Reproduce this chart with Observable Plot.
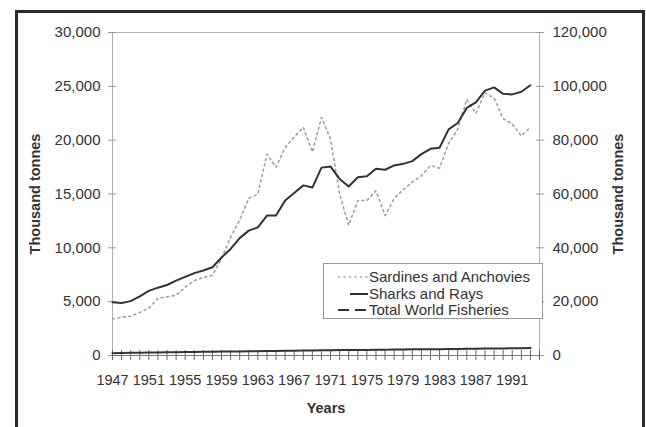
<!DOCTYPE html>
<html>
<head>
<meta charset="utf-8">
<script src="https://cdn.jsdelivr.net/npm/d3@7"></script>
<script src="https://cdn.jsdelivr.net/npm/@observablehq/plot@0.6"></script>
<style>
  body { margin: 0; background: #fff; }
  #wrap { position: relative; width: 646px; height: 427px; overflow: hidden;
          font-family: "Liberation Sans", Arial, sans-serif; color: #333; }
  #chart { position: absolute; left: 0; top: 0; }
  #frame { position: absolute; left: 15px; top: 10px; width: 630px; height: 430px;
           border: 3px solid #2b2b2b; box-sizing: border-box; pointer-events: none; }
  #legend { position: absolute; left: 323px; top: 263px; width: 220px; height: 56px;
            box-sizing: border-box; border: 1px solid #9a9a9a; background: #fff;
            padding: 5px 0 0 14px; font-size: 15px; line-height: 16.5px; color: #333; }
  #legend .row { display: flex; align-items: center; height: 16.5px; white-space: nowrap; }
  #legend svg { flex: none; margin-right: 1px; }
</style>
</head>
<body>
<div id="wrap">
  <div id="chart"></div>
  <div id="frame"></div>
  <div id="legend"></div>
</div>
<script>
// ---- data (thousand tonnes) ----
const years = [1947,1948,1949,1950,1951,1952,1953,1954,1955,1956,1957,1958,1959,1960,
  1961,1962,1963,1964,1965,1966,1967,1968,1969,1970,1971,1972,1973,1974,1975,1976,1977,
  1978,1979,1980,1981,1982,1983,1984,1985,1986,1987,1988,1989,1990,1991,1992,1993];

const sardines = [3400,3550,3650,4000,4400,5300,5450,5600,6350,6950,7250,7450,9000,11000,
  12600,14600,15000,18700,17500,19300,20300,21200,18900,22100,20100,15000,12100,14400,14400,15300,13000,
  14600,15400,16100,16700,17650,17400,19700,21000,23800,22500,24400,23900,22000,21500,20400,21200];

const sharks = [220,230,250,260,270,290,300,310,320,330,340,350,360,370,
  380,390,400,410,420,440,450,460,470,480,490,500,510,520,520,530,540,
  550,560,570,580,590,590,600,610,620,630,640,650,660,670,680,690];

const totalWorld = [19800,19520,20200,22000,24000,25200,26200,27800,29200,30600,31600,32800,36400,39600,
  43600,46400,47600,52000,52000,57600,60400,63200,62400,69800,70200,65600,62800,66200,66600,69400,69000,
  70600,71200,72200,74800,76800,77200,84000,86400,92000,94000,98400,99600,97200,97000,98000,100400];

const leftTicks = [0,5000,10000,15000,20000,25000,30000];
const rightTicks = [0,20000,40000,60000,80000,100000,120000];
const xLabels = [1947,1951,1955,1959,1963,1967,1971,1975,1979,1983,1987,1991];
const tickYears = [...years, 1994];
const seriesNames = ["Sardines and Anchovies","Sharks and Rays","Total World Fisheries"];
const axisTitles = {y: "Thousand tonnes", x: "Years"};

// ---- table ----
const data = years.map((year, i) => ({year, sardines: sardines[i], sharks: sharks[i], total: totalWorld[i]}));
const ratio = rightTicks[rightTicks.length-1] / leftTicks[leftTicks.length-1]; // 4
const fmt = d3.format(",");
const blank = () => "";

const chart = Plot.plot({
  width: 646, height: 427,
  marginLeft: 112, marginRight: 107, marginTop: 32, marginBottom: 72,
  x: {domain: [1947, 1994], label: null},
  y: {domain: [0, 30000], label: null},
  style: {fontFamily: '"Liberation Sans", Arial, sans-serif', fontSize: "14.5px", color: "#333", background: "transparent"},
  marks: [
    Plot.frame({stroke: "#b0b0b0"}),
    Plot.axisY(leftTicks, {anchor: "left", tickSize: 4, tickPadding: 8, tickFormat: fmt, label: null, stroke: "#999", fontSize: 15}),
    Plot.axisY(leftTicks, {anchor: "left", tickSize: 4, dx: 4, tickFormat: blank, label: null, stroke: "#999"}),
    Plot.axisY(rightTicks.map(v => v / ratio), {anchor: "right", tickSize: 4, tickPadding: 9, tickFormat: v => fmt(v * ratio), label: null, stroke: "#999", fontSize: 15}),
    Plot.axisY(rightTicks.map(v => v / ratio), {anchor: "right", tickSize: 4, dx: -4, tickFormat: blank, label: null, stroke: "#999"}),
    Plot.axisX(tickYears, {anchor: "bottom", tickSize: 5, tickFormat: blank, label: null, stroke: "#666"}),
    Plot.axisX(tickYears, {anchor: "bottom", tickSize: 5, dy: -5, tickFormat: blank, label: null, stroke: "#666"}),
    Plot.axisX(xLabels, {anchor: "bottom", tickSize: 0, tickPadding: 19, tickFormat: d => String(d), label: null}),
    Plot.ruleY([0], {stroke: "#777"}),
    Plot.line(data, {x: "year", y: "sardines", stroke: "#a0a0a0", strokeWidth: 1.6, strokeDasharray: "2,3.5"}),
    Plot.line(data, {x: "year", y: d => d.total / ratio, stroke: "#333", strokeWidth: 2}),
    Plot.line(data, {x: "year", y: "sharks", stroke: "#333", strokeWidth: 2}),
    Plot.text([axisTitles.y], {frameAnchor: "left", dx: -77, rotate: -90, textAnchor: "middle", fontWeight: "bold", fontSize: 14.5, fill: "#333"}),
    Plot.text([axisTitles.y], {frameAnchor: "right", dx: 79, rotate: -90, textAnchor: "middle", fontWeight: "bold", fontSize: 14.5, fill: "#333"}),
    Plot.text([axisTitles.x], {frameAnchor: "bottom", dy: 57, fontWeight: "bold", fontSize: 14.5, fill: "#333"})
  ]
});
document.getElementById("chart").appendChild(chart);

// ---- legend ----
const styles = [
  {stroke: "#a0a0a0", dash: "2,3.5", width: 1.6},
  {stroke: "#333", dash: null, width: 2},
  {stroke: "#333", dash: "11,6", width: 2}
];
const legend = document.getElementById("legend");
seriesNames.forEach((name, i) => {
  const s = styles[i];
  const row = document.createElement("div");
  row.className = "row";
  row.innerHTML = `<svg width="30" height="10"><line x1="${i===1?12:0}" x2="30" y1="5" y2="5" stroke="${s.stroke}" stroke-width="${s.width}" ${s.dash ? `stroke-dasharray="${s.dash}"` : ""}/></svg><span>${name}</span>`;
  legend.appendChild(row);
});
</script>
</body>
</html>
